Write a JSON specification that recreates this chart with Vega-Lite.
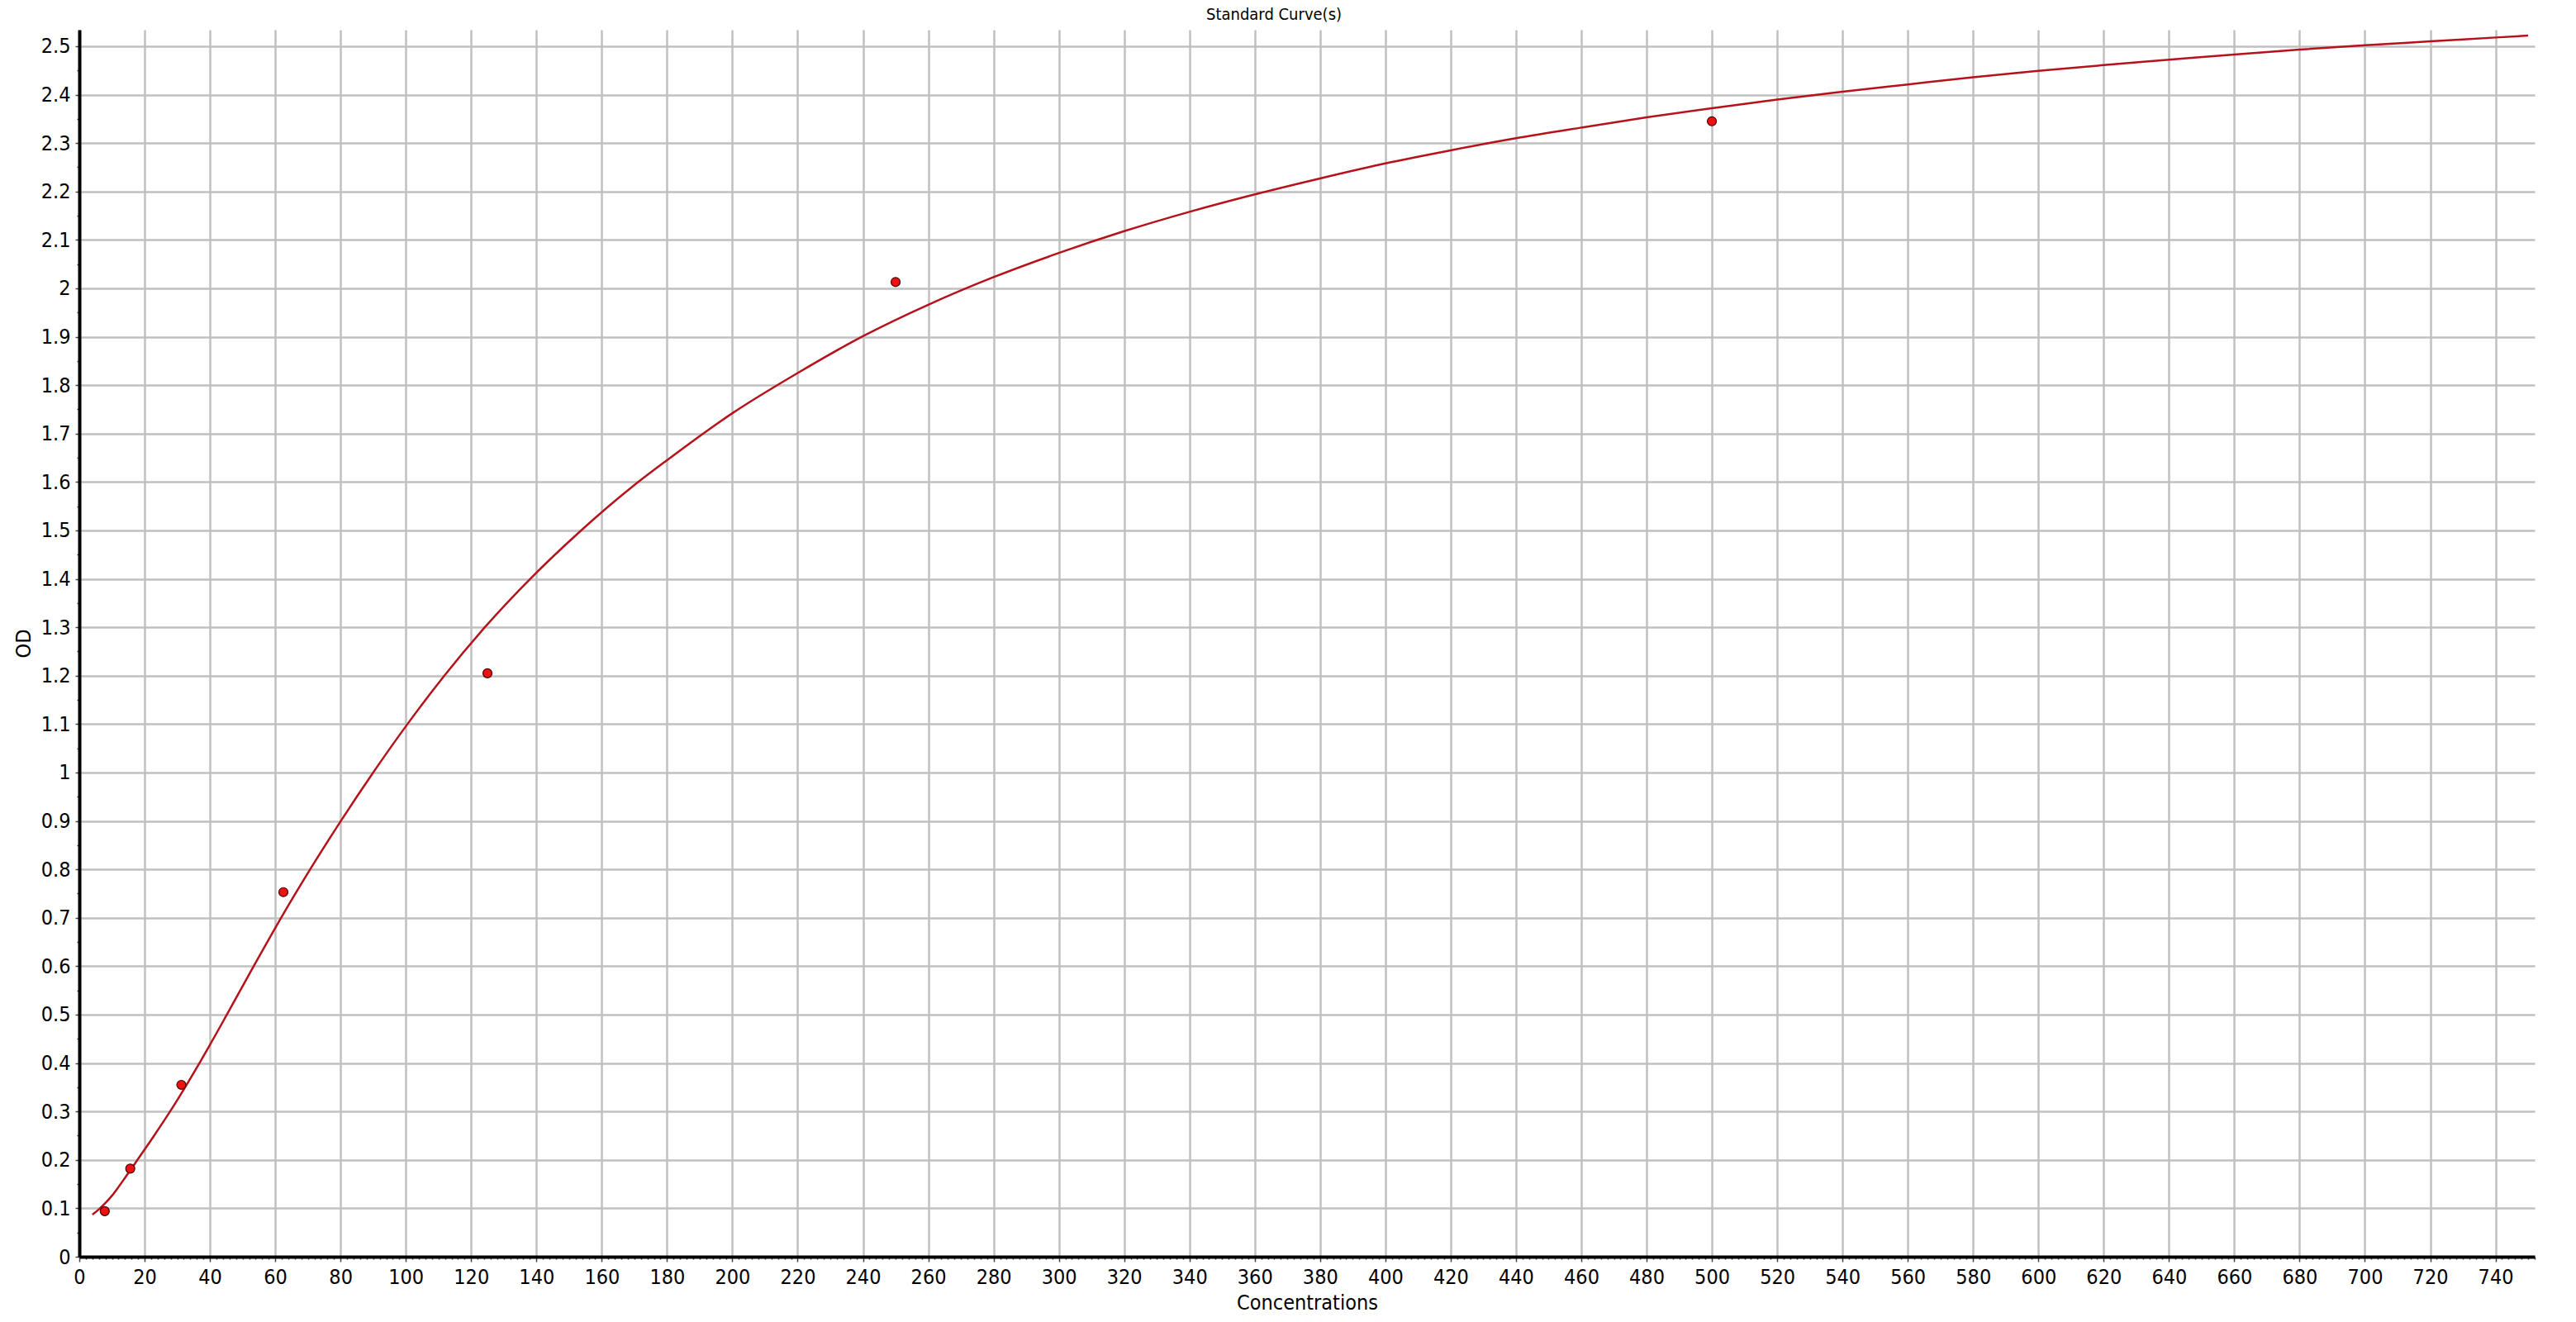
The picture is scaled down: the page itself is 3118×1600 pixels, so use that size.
{
  "$schema": "https://vega.github.io/schema/vega-lite/v6.json",
  "width": 2972,
  "height": 1485,
  "autosize": {"type": "none"},
  "padding": {"left": 96, "top": 36, "right": 50, "bottom": 79},
  "background": "white",
  "config": {
    "view": {"stroke": null},
    "font": "DejaVu Sans Condensed, DejaVu Sans, sans-serif"
  },
  "title": {
    "text": "Standard Curve(s)",
    "fontSize": 20,
    "fontWeight": "normal",
    "color": "#000000",
    "anchor": "middle",
    "offset": 8,
    "dx": -40
  },
  "datasets": {
    "curve": [
      {"conc": 4, "od": 0.087},
      {"conc": 6, "od": 0.098},
      {"conc": 8, "od": 0.111},
      {"conc": 10, "od": 0.126},
      {"conc": 12, "od": 0.144},
      {"conc": 14, "od": 0.163},
      {"conc": 17.8, "od": 0.2},
      {"conc": 22.9, "od": 0.25},
      {"conc": 27.8, "od": 0.3},
      {"conc": 36.8, "od": 0.4},
      {"conc": 45.2, "od": 0.5},
      {"conc": 53.4, "od": 0.6},
      {"conc": 61.8, "od": 0.7},
      {"conc": 70.7, "od": 0.8},
      {"conc": 80.1, "od": 0.9},
      {"conc": 90.0, "od": 1.0},
      {"conc": 100.5, "od": 1.1},
      {"conc": 111.8, "od": 1.2},
      {"conc": 124.2, "od": 1.3},
      {"conc": 138.1, "od": 1.4},
      {"conc": 153.7, "od": 1.5},
      {"conc": 171.2, "od": 1.6},
      {"conc": 180, "od": 1.645},
      {"conc": 200, "od": 1.742},
      {"conc": 220, "od": 1.825},
      {"conc": 240, "od": 1.901},
      {"conc": 260, "od": 1.966},
      {"conc": 280, "od": 2.023},
      {"conc": 300, "od": 2.073},
      {"conc": 320, "od": 2.118},
      {"conc": 340, "od": 2.158},
      {"conc": 360, "od": 2.194},
      {"conc": 380, "od": 2.227},
      {"conc": 400, "od": 2.258},
      {"conc": 420, "od": 2.285},
      {"conc": 440, "od": 2.31},
      {"conc": 460, "od": 2.332},
      {"conc": 480, "od": 2.353},
      {"conc": 500, "od": 2.372},
      {"conc": 520, "od": 2.39},
      {"conc": 540, "od": 2.406},
      {"conc": 560, "od": 2.421},
      {"conc": 580, "od": 2.436},
      {"conc": 600, "od": 2.449},
      {"conc": 620, "od": 2.461},
      {"conc": 640, "od": 2.472},
      {"conc": 660, "od": 2.483},
      {"conc": 680, "od": 2.493},
      {"conc": 700, "od": 2.502},
      {"conc": 720, "od": 2.51},
      {"conc": 740, "od": 2.518},
      {"conc": 750, "od": 2.522}
    ],
    "standards": [
      {"conc": 7.8, "od": 0.094},
      {"conc": 15.6, "od": 0.182},
      {"conc": 31.25, "od": 0.355},
      {"conc": 62.5, "od": 0.753},
      {"conc": 125, "od": 1.205},
      {"conc": 250, "od": 2.013},
      {"conc": 500, "od": 2.345}
    ]
  },
  "encoding": {
    "x": {
      "field": "conc",
      "type": "quantitative",
      "scale": {"domain": [0, 752], "nice": false, "zero": false},
      "axis": {
        "title": "Concentrations",
        "titleFontSize": 25,
        "titleFontWeight": "normal",
        "titleColor": "#000000",
        "titlePadding": 6,
        "tickCount": 376,
        "labelExpr": "datum.value % 20 === 0 ? format(datum.value, 'd') : ''",
        "labelOverlap": false,
        "labelFlush": false,
        "labelBound": false,
        "labelFontSize": 25,
        "labelColor": "#000000",
        "labelPadding": 6,
        "domainColor": "#000000",
        "domainWidth": 4,
        "tickColor": "#444444",
        "tickWidth": 1.5,
        "tickSize": {"condition": {"test": "datum.value % 20 === 0", "value": 6}, "value": 3},
        "grid": true,
        "gridColor": "#c0c0c0",
        "gridWidth": 2.5,
        "gridOpacity": {"condition": {"test": "datum.value % 20 === 0", "value": 1}, "value": 0}
      }
    },
    "y": {
      "field": "od",
      "type": "quantitative",
      "scale": {"domain": [0, 2.534], "nice": false, "zero": false},
      "axis": {
        "title": "OD",
        "titleFontSize": 25,
        "titleFontWeight": "normal",
        "titleColor": "#000000",
        "titlePadding": 8,
        "tickCount": 51,
        "labelExpr": "abs(datum.value * 10 - round(datum.value * 10)) < 0.001 ? format(datum.value, '~g') : ''",
        "labelOverlap": false,
        "labelFlush": false,
        "labelBound": false,
        "labelFontSize": 25,
        "labelColor": "#000000",
        "labelPadding": 6,
        "domainColor": "#000000",
        "domainWidth": 4,
        "tickColor": "#444444",
        "tickWidth": 1.5,
        "tickSize": {"condition": {"test": "abs(datum.value * 10 - round(datum.value * 10)) < 0.001", "value": 5}, "value": 3},
        "grid": true,
        "gridColor": "#c0c0c0",
        "gridWidth": 2.5,
        "gridOpacity": {"condition": {"test": "abs(datum.value * 10 - round(datum.value * 10)) < 0.001", "value": 1}, "value": 0}
      }
    }
  },
  "layer": [
    {
      "data": {"name": "curve"},
      "mark": {"type": "line", "color": "#b5121b", "strokeWidth": 2.5, "interpolate": "monotone"}
    },
    {
      "data": {"name": "standards"},
      "mark": {"type": "circle", "color": "#ee1111", "opacity": 1, "stroke": "#4a0000", "strokeWidth": 1.2, "size": 120}
    }
  ]
}
